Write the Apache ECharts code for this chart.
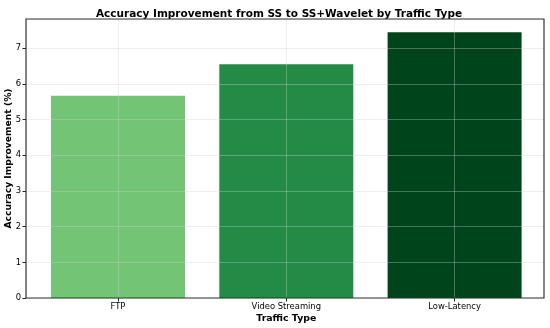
<!DOCTYPE html>
<html><head><meta charset="utf-8">
<script src="https://cdn.jsdelivr.net/npm/echarts@6/dist/echarts.min.js"></script>
<style>html,body{margin:0;padding:0;background:#fff}#c{width:550px;height:328px}</style>
</head><body><div id="c"></div>
<script>
const categories = ["FTP", "Video Streaming", "Low-Latency"];
const improvement = [5.67, 6.55, 7.45];
const barColors = ["#74c476", "#238b45", "#00441b"];
const yTicks = [0, 1, 2, 3, 4, 5, 6, 7];

const chart = echarts.init(document.getElementById('c'), null, {renderer: 'canvas'});
const font = 'DejaVu Sans';
const gridLine = {show: true, lineStyle: {color: 'rgba(205,205,205,0.35)', width: 1}};
const yMax = 7.82;
chart.setOption({
  animation: false,
  backgroundColor: '#fff',
  title: {
    text: 'Accuracy Improvement from SS to SS+Wavelet by Traffic Type',
    left: 274, top: 4, textAlign: 'center',
    textStyle: {fontFamily: font, fontWeight: 'bold', fontSize: 10.5, color: '#000'}
  },
  grid: [
    {left: 26, right: 6, top: 19, bottom: 30, show: true, borderColor: '#333', borderWidth: 1.2,
     backgroundColor: 'transparent', z: 10, outerBoundsMode: 'none', containLabel: false},
    {left: 118, width: 336.6, top: 19, bottom: 30, outerBoundsMode: 'none', containLabel: false}
  ],
  xAxis: [
    {gridIndex: 0, type: 'value', min: 0, max: 1, show: false},
    {gridIndex: 1, type: 'category', data: categories, boundaryGap: false, z: 5,
     axisLine: {show: false},
     axisTick: {show: true, length: 3.5, lineStyle: {color: '#222'}},
     axisLabel: {fontFamily: font, fontSize: 8.4, color: '#000', margin: 5},
     splitLine: gridLine,
     name: 'Traffic Type', nameLocation: 'middle', nameGap: 16, nameMoveOverlap: false,
     nameTextStyle: {fontFamily: font, fontWeight: 'bold', fontSize: 9.4, color: '#000'}}
  ],
  yAxis: [
    {gridIndex: 0, type: 'value', min: 0, max: yMax, interval: 1, z: 5,
     axisLine: {show: false},
     axisTick: {show: true, length: 3.5, lineStyle: {color: '#222'}},
     axisLabel: {fontFamily: font, fontSize: 8.4, color: '#000', margin: 5, showMaxLabel: false,
       formatter: v => yTicks.includes(v) ? String(v) : ''},
     splitLine: gridLine,
     name: 'Accuracy Improvement (%)', nameLocation: 'middle', nameGap: 13, nameMoveOverlap: false,
     nameTextStyle: {fontFamily: font, fontWeight: 'bold', fontSize: 9.2, color: '#000'}},
    {gridIndex: 1, type: 'value', min: 0, max: yMax, show: false}
  ],
  series: [{
    type: 'bar', xAxisIndex: 1, yAxisIndex: 1, clip: false,
    barWidth: 134,
    data: improvement.map((v, i) => ({value: v, itemStyle: {color: barColors[i]}})),
    z: 2
  }]
});
</script></body></html>
